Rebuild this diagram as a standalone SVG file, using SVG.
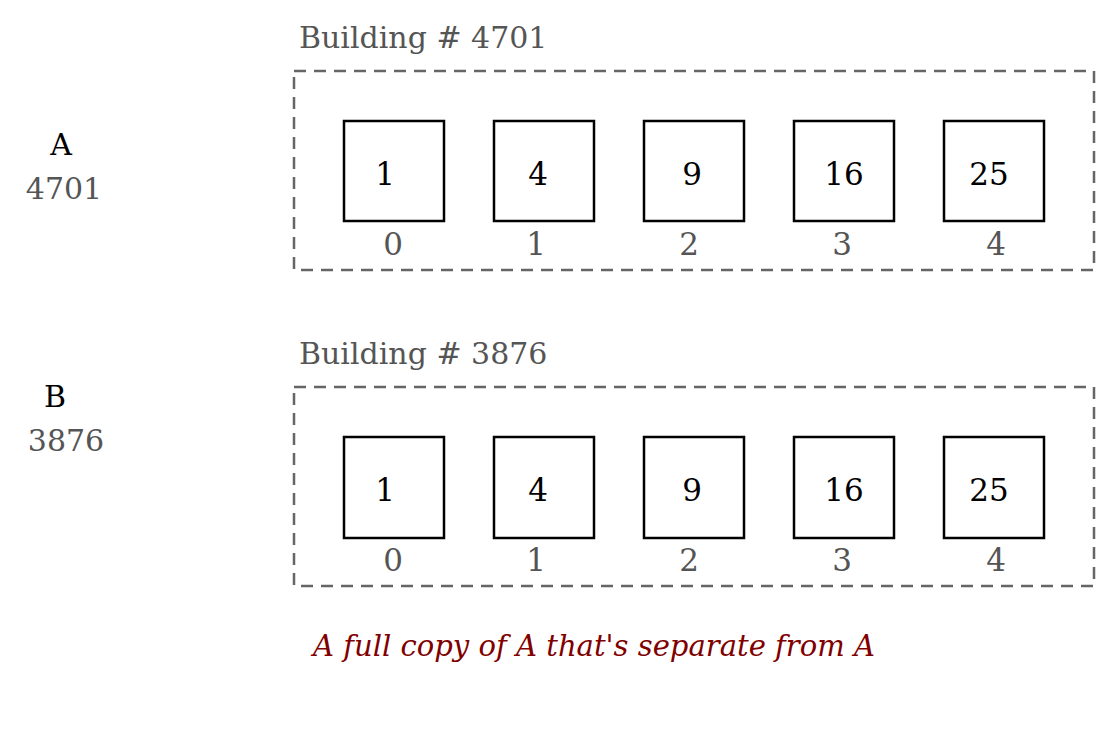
<svg xmlns="http://www.w3.org/2000/svg" width="1111" height="741" viewBox="0 0 1111 741">
<style>
.t{font-family:"DejaVu Serif","Liberation Serif",serif;}
.title{font-size:30px;fill:#555555;}
.frame{fill:none;stroke:#666666;stroke-width:2.5;stroke-dasharray:12,8;}
.cell{fill:#ffffff;stroke:#000000;stroke-width:2.5;}
.val{font-size:31px;fill:#000000;text-anchor:middle;}
.idx{font-size:31px;fill:#555555;text-anchor:middle;}
.name{font-size:30px;fill:#000000;text-anchor:middle;}
.addr{font-size:30px;fill:#555555;text-anchor:middle;}
.cap{font-size:30px;fill:#800000;font-style:italic;}
</style>
<rect width="1111" height="741" fill="#ffffff"/>
<g id="varA">
<text class="t name" x="61" y="155">A</text>
<text class="t addr" x="64" y="199">4701</text>
</g>
<g id="varB">
<text class="t name" x="55" y="407">B</text>
<text class="t addr" x="66" y="451">3876</text>
</g>
<g id="building4701">
<text class="t title" x="299" y="48">Building # 4701</text>
<rect class="frame" x="294" y="71" width="800" height="199"/>
<g id="a0"><rect class="cell" x="344" y="121" width="100" height="100"/><text class="t val" x="385" y="185">1</text><text class="t idx" x="393" y="255">0</text></g>
<g id="a1"><rect class="cell" x="494" y="121" width="100" height="100"/><text class="t val" x="538" y="185">4</text><text class="t idx" x="536" y="255">1</text></g>
<g id="a2"><rect class="cell" x="644" y="121" width="100" height="100"/><text class="t val" x="692" y="185">9</text><text class="t idx" x="689" y="255">2</text></g>
<g id="a3"><rect class="cell" x="794" y="121" width="100" height="100"/><text class="t val" x="844" y="185">16</text><text class="t idx" x="842" y="255">3</text></g>
<g id="a4"><rect class="cell" x="944" y="121" width="100" height="100"/><text class="t val" x="989" y="185">25</text><text class="t idx" x="996" y="255">4</text></g>
</g>
<g id="building3876">
<text class="t title" x="299" y="364">Building # 3876</text>
<rect class="frame" x="294" y="387" width="800" height="199"/>
<g id="b0"><rect class="cell" x="344" y="437" width="100" height="101"/><text class="t val" x="385" y="501">1</text><text class="t idx" x="393" y="571">0</text></g>
<g id="b1"><rect class="cell" x="494" y="437" width="100" height="101"/><text class="t val" x="538" y="501">4</text><text class="t idx" x="536" y="571">1</text></g>
<g id="b2"><rect class="cell" x="644" y="437" width="100" height="101"/><text class="t val" x="692" y="501">9</text><text class="t idx" x="689" y="571">2</text></g>
<g id="b3"><rect class="cell" x="794" y="437" width="100" height="101"/><text class="t val" x="844" y="501">16</text><text class="t idx" x="842" y="571">3</text></g>
<g id="b4"><rect class="cell" x="944" y="437" width="100" height="101"/><text class="t val" x="989" y="501">25</text><text class="t idx" x="996" y="571">4</text></g>
</g>
<g id="connectors"></g>
<text class="t cap" x="313" y="656" textLength="562" lengthAdjust="spacingAndGlyphs">A full copy of A that's separate from A</text>
</svg>
